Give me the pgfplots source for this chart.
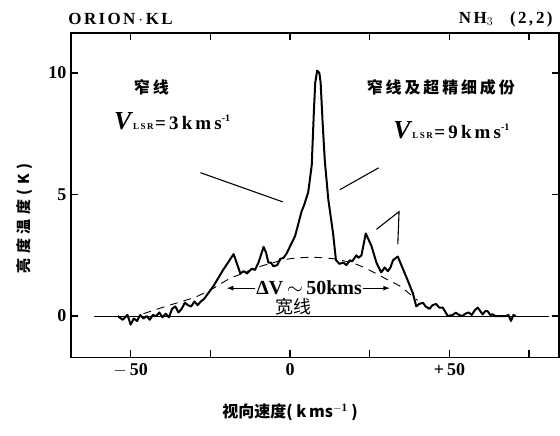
\documentclass[border=0pt]{standalone}
\usepackage{pgfplots}
\pgfplotsset{compat=1.18}
\usepackage{fontspec}
\setmainfont{Liberation Serif}
\newfontfamily\cjk{Noto Sans CJK SC}
\newfontfamily\cjksp[LetterSpace=18]{Noto Sans CJK SC}
\newfontfamily\cjkspy[LetterSpace=30]{Noto Sans CJK SC}
\newfontfamily\latsp[LetterSpace=14]{Liberation Serif}
\pgfplotstableread{
v T
-54 0.0
-52.5 -0.15
-51 0.05
-50 -0.35
-49 -0.1
-48 -0.2
-47 0.05
-46 -0.1
-45 0.0
-44 -0.15
-43 0.05
-42 0.0
-41 0.15
-40 -0.05
-39 0.1
-38 -0.05
-37 0.3
-36 0.4
-35 0.15
-34 0.3
-33 0.55
-32 0.45
-31 0.4
-30 0.6
-29 0.45
-28 0.6
-27 0.7
-24 1.24
-21 1.9
-17.7 2.55
-15.6 1.76
-14.5 1.85
-13.5 1.75
-12 1.95
-11 1.9
-9.9 2.2
-8.3 2.85
-7.5 2.6
-6.8 2.2
-6 2.2
-5.2 2.05
-4 2.1
-3.1 2.35
-2 2.4
-1.0 2.6
1.6 3.3
3.6 4.3
4.5 4.6
5.7 5.1
6.8 6.2
7.5 8.5
7.9 9.6
8.5 10.1
9.2 10.0
9.6 9.6
10.2 8.0
10.9 6.4
12.0 4.8
13.5 3.4
14.4 2.3
15.5 2.15
16.7 2.2
17.7 2.1
18.75 2.3
19.5 2.25
20.8 2.5
21.5 2.4
22.4 2.5
23.75 3.4
25.5 2.9
27.1 2.2
28.6 1.8
29.7 2.0
30.7 1.85
31.5 2.0
32.3 2.3
33.8 2.45
34.9 2.1
36.5 1.6
38.5 0.95
39.6 0.4
40.5 0.5
41.7 0.55
42.5 0.4
43.75 0.3
44.7 0.45
45.8 0.5
46.8 0.35
47.9 0.35
49.5 0.0
51 0.05
52 0.14
53 0.05
54 0.0
55 0.1
56 0.15
57 0.05
58 0.25
58.9 0.35
59.7 0.2
60.4 0.07
61.2 0.2
62 0.2
62.8 0.05
63.5 0.07
64.5 0.0
65.6 0.0
67.7 0.0
68.5 0.05
69.3 -0.2
70.1 0.05
70.8 0.0
}\spectrum
\pgfplotstableread{
v T
-46 0.1
-44.8 0.15
-38.5 0.42
-32.3 0.67
-29.2 0.81
-24 1.15
-19.3 1.52
-15.6 1.72
-10.4 2.0
-5.2 2.2
-1.0 2.34
3 2.4
7.3 2.42
11 2.39
14.6 2.34
20.8 2.13
26 1.82
31.25 1.45
34.4 1.24
38.5 0.81
40 0.65
}\broad
\begin{document}
\begin{tikzpicture}
\begin{axis}[name=ax, at={(0,0)}, anchor=south west,
  scale only axis, width=489pt, height=325pt,
  xmin=-68.75, xmax=84.4, ymin=-1.7, ymax=11.65,
  clip=false,
  axis line style={line width=1.8pt},
  xtick={-50,-25,0,25,50,75},
  xticklabels={$-$\,50,,0,,+\,50,},
  ytick={0,5,10}, yticklabels={0,5,10},
  xtick pos=both, ytick pos=both,
  xticklabel pos=lower, yticklabel pos=left,
  tick align=inside, major tick length=7pt,
  every tick/.style={line width=1.3pt, black},
  xticklabel style={font=\fontsize{18}{18}\selectfont\bfseries, yshift=-3pt},
  yticklabel style={font=\fontsize{18}{18}\selectfont\bfseries, xshift=-1pt},
]
\addplot[black, line width=0.9pt] coordinates {(-61.5,0) (81.25,0)};
\addplot[black, line width=0.9pt, dash pattern=on 8pt off 6pt, smooth] table[x=v,y=T] {\broad};
\addplot[black, line width=2pt, line join=round] table[x=v,y=T] {\spectrum};

% annotation lines
\draw[line width=1.1pt] (axis cs:-28.1,5.9) -- (axis cs:-2.3,4.7);
\draw[line width=1.1pt] (axis cs:15.6,5.2) -- (axis cs:27.8,6.1);
\draw[line width=1.1pt] (axis cs:27.1,3.57) -- (axis cs:34.2,4.3) -- (axis cs:33.8,2.95);

% texts
\node[font=\cjksp\bfseries\fontsize{16}{16}\selectfont] at (axis cs:-43.5,9.4) {窄线};
\node[font=\cjksp\bfseries\fontsize{16}{16}\selectfont] at (axis cs:47.3,9.4) {窄线及超精细成份};
\node at (axis cs:-37,8.0) {{\fontsize{26}{26}\selectfont\bfseries\itshape V}\,{\fontsize{9}{9}\selectfont\bfseries L\,S\,R}\,{\fontsize{19}{19}\selectfont\bfseries =\,3\,k\,m\,s}\raisebox{8pt}{\fontsize{10}{10}\selectfont\bfseries -1}};
\node at (axis cs:50.6,7.66) {{\fontsize{26}{26}\selectfont\bfseries\itshape V}\,{\fontsize{9}{9}\selectfont\bfseries L\,S\,R}\,{\fontsize{19}{19}\selectfont\bfseries =\,9\,k\,m\,s}\raisebox{8pt}{\fontsize{10}{10}\selectfont\bfseries -1}};
\node[font=\fontsize{20}{20}\selectfont\bfseries, inner sep=1pt] (dv) at (axis cs:6,1.15) {ΔV$\,\sim\,$50kms};
\draw[-latex, line width=1.2pt] (dv.west) -- (axis cs:-19.8,1.15);
\draw[-latex, line width=1.2pt] (dv.east) -- (axis cs:31.25,1.15);
\node[font=\cjk\fontsize{18}{18}\selectfont] at (axis cs:1,0.4) {宽线};

% titles and labels
\node[anchor=west, font=\latsp\bfseries\fontsize{17}{17}\selectfont] at ([xshift=-6pt,yshift=14pt]rel axis cs:0,1) {ORION\,$\cdot$\,KL};
\node[anchor=east, font=\latsp\bfseries\fontsize{17}{17}\selectfont] at ([xshift=-3pt,yshift=14pt]rel axis cs:1,1) {NH$_3$\quad(2,\,2)};
\node[rotate=90, font=\cjkspy\bfseries\fontsize{15}{15}\selectfont] at ([xshift=-46pt]rel axis cs:0,0.428) {亮度温度(\textbf{\textit{K}})};
\node[font=\cjk\bfseries\fontsize{16}{16}\selectfont] at ([yshift=-55pt]axis cs:0,-1.7) {视向速度( \textbf{\textit{k}}\,\textbf{ms}$^{\mathbf{-1}}$ )};
\end{axis}
\path[use as bounding box] ([xshift=-71pt,yshift=-78pt]ax.south west) rectangle ([yshift=33pt]ax.north east);
\end{tikzpicture}
\end{document}
